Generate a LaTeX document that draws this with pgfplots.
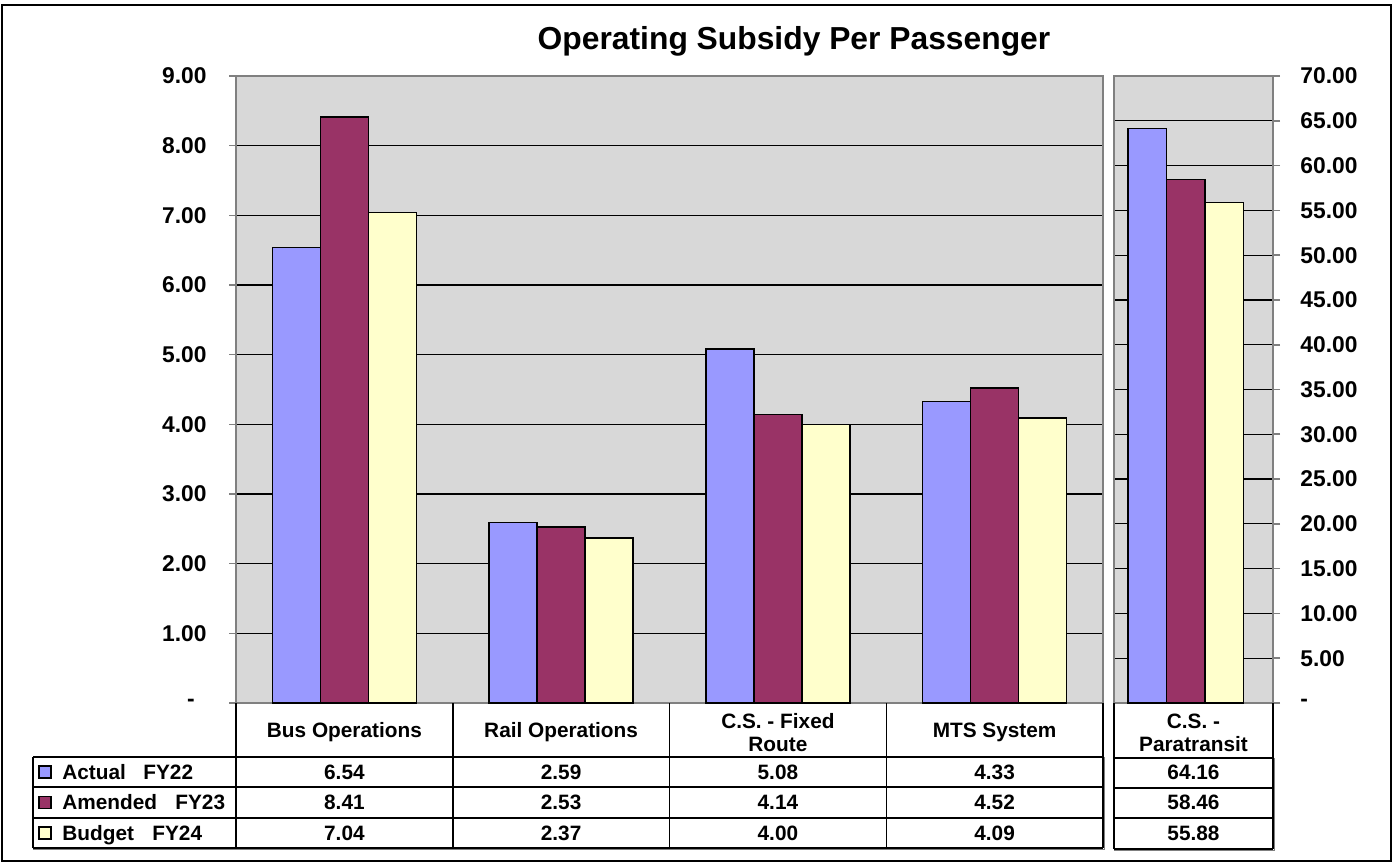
\documentclass[border=0pt]{standalone}
\usepackage{fontspec}
\setmainfont{Liberation Sans}
\usepackage{pgfplots}
\usepackage{pgfplotstable}
\pgfplotsset{compat=1.18}

\definecolor{actual}{RGB}{153,153,255}
\definecolor{amended}{RGB}{153,51,102}
\definecolor{budget}{RGB}{255,255,204}
\definecolor{plotbg}{RGB}{216,216,216}
\definecolor{framegray}{RGB}{128,128,128}

% subsidy per passenger, fixed-route modes
\pgfplotstableread{
x actual amended budget
0 6.54 8.41 7.04
1 2.59 2.53 2.37
2 5.08 4.14 4.00
3 4.33 4.52 4.09
}\modes
% paratransit (own scale)
\pgfplotstableread{
x actual amended budget
0 64.16 58.46 55.88
}\para

\newcommand{\val}[3]{\pgfplotstablegetelem{#2}{#3}\of#1%
  \pgfmathprintnumber[fixed,fixed zerofill,precision=2,assume math mode=true]{\pgfplotsretval}}
\newcommand{\tfont}{\bfseries\fontsize{10.4}{12}\selectfont}
\newcommand{\kfont}{\bfseries\fontsize{11.4}{13}\selectfont}

\pgfplotsset{
  panel/.style={
    scale only axis,
    height=313.5pt,
    ymin=0,
    xtick=\empty,
    ybar=0pt,
    axis background/.style={fill=plotbg},
    axis line style={framegray, line width=1pt},
    ymajorgrids=true,
    grid style={black, line width=0.6pt},
    tick align=outside,
    major tick length=3.5pt,
    y tick style={framegray, line width=0.8pt},
    yticklabel style={font=\kfont, inner sep=0pt},
    every axis plot/.append style={draw=black, line width=0.8pt},
  },
}

\begin{document}
\begin{tikzpicture}
\useasboundingbox (0,0) rectangle (697pt,432pt);

\begin{axis}[panel,
    at={(118pt,80.5pt)}, anchor=south west,
    width=433.5pt,
    xmin=-0.5, xmax=3.5, ymax=9,
    bar width=24pt,
    ytick={0,1,...,9},
    yticklabels={-\kern6pt,1.00,2.00,3.00,4.00,5.00,6.00,7.00,8.00,9.00},
    ytick pos=left,
    yticklabel style={anchor=east, xshift=-11pt},
  ]
  \addplot[fill=actual] table[x=x, y=actual] {\modes};
  \addplot[fill=amended] table[x=x, y=amended] {\modes};
  \addplot[fill=budget] table[x=x, y=budget] {\modes};
\end{axis}

\begin{axis}[panel,
    at={(557pt,80.5pt)}, anchor=south west,
    width=79.5pt,
    xmin=-0.45, xmax=0.55, ymax=70,
    bar width=19.25pt,
    ytick={0,5,...,70},
    yticklabels={-,5.00,10.00,15.00,20.00,25.00,30.00,35.00,40.00,45.00,50.00,55.00,60.00,65.00,70.00},
    ytick pos=right, yticklabel pos=right,
    yticklabel style={anchor=west, xshift=10pt},
  ]
  \addplot[fill=actual] table[x=x, y=actual] {\para};
  \addplot[fill=amended] table[x=x, y=amended] {\para};
  \addplot[fill=budget] table[x=x, y=budget] {\para};
\end{axis}

\begin{scope}[x=0.5pt, y=-0.5pt, yshift=432pt]
  % outer frame
  \draw[black, line width=0.75pt] (2,5) rectangle (1391,861);
  % title
  \node[anchor=base, font=\bfseries\fontsize{15.9}{18}\selectfont] at (794,50)
    {Operating Subsidy Per Passenger};

  % data table, left block
  \begin{scope}[line width=0.75pt]
    \draw (33,757) -- (1103,757);
    \draw (33,787) -- (1103,787);
    \draw (33,818) -- (1103,818);
    \draw (33,848) -- (1103,848);
    \draw (33,757) -- (33,848);
    \foreach \cx in {236,452.75,669.5,886.25,1103} \draw (\cx,703) -- (\cx,848);
    \draw[framegray] (33,849.5) -- (1104.5,849.5) -- (1104.5,757);
    % right block
    \draw (1114,703) -- (1114,849);
    \draw (1273,703) -- (1273,849);
    \draw (1114,758) -- (1273,758);
    \draw (1114,788) -- (1273,788);
    \draw (1114,818) -- (1273,818);
    \draw (1114,849) -- (1273,849);
    \draw[framegray] (1114,850.5) -- (1274.5,850.5) -- (1274.5,758);
  \end{scope}

  % legend keys
  \filldraw[fill=actual, draw=black, line width=0.6pt] (39,766) rectangle (51,778);
  \filldraw[fill=amended, draw=black, line width=0.6pt] (39,796.5) rectangle (51,808.5);
  \filldraw[fill=budget, draw=black, line width=0.6pt] (39,827) rectangle (51,839);
  \begin{scope}[every node/.style={anchor=base west, inner sep=0pt, font=\tfont}]
    \node at (62,779) {Actual};   \node at (143,779) {FY22};
    \node at (62,809.5) {Amended}; \node at (175,809.5) {FY23};
    \node at (62,840) {Budget};   \node at (152,840) {FY24};
  \end{scope}

  % headers and values
  \begin{scope}[every node/.style={anchor=base, inner sep=0pt, font=\tfont}]
    \node at (344.4,737) {Bus Operations};
    \node at (561.1,737) {Rail Operations};
    \node at (777.9,728) {C.S. - Fixed};
    \node at (777.9,751) {Route};
    \node at (994.6,737) {MTS System};
    \node at (1193.5,728) {C.S. -};
    \node at (1193.5,751) {Paratransit};
    \foreach \r/\cx in {0/344.4,1/561.1,2/777.9,3/994.6} {
      \node at (\cx,779) {\val{\modes}{\r}{actual}};
      \node at (\cx,809.5) {\val{\modes}{\r}{amended}};
      \node at (\cx,840) {\val{\modes}{\r}{budget}};
    }
    \node at (1193.5,779) {\val{\para}{0}{actual}};
    \node at (1193.5,809.5) {\val{\para}{0}{amended}};
    \node at (1193.5,840) {\val{\para}{0}{budget}};
  \end{scope}
\end{scope}
\end{tikzpicture}
\end{document}
